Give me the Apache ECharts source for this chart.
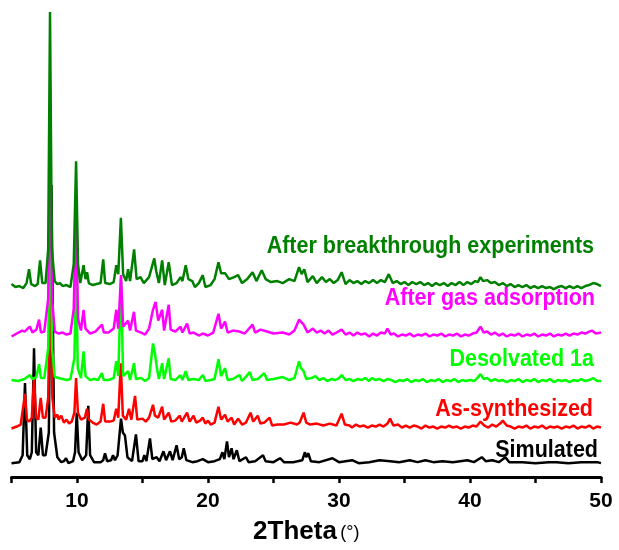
<html>
<head>
<meta charset="utf-8">
<title>PXRD patterns</title>
<script src="https://cdn.jsdelivr.net/npm/echarts@6/dist/echarts.min.js"></script>
<style>
  html, body { margin: 0; padding: 0; background: #fff; }
  #chart { width: 619px; height: 550px; }
</style>
</head>
<body>
<div id="chart"></div>
<script type="text/javascript">
// [2theta, intensity] pairs, each pattern already offset upward
var simulated = [[5.0,14],[5.6,15],[5.85,22],[6.03,95],[6.2,22],[6.4,18],[6.55,25],[6.72,130],[6.88,25],[7.05,22],[7.23,50],[7.4,22],[7.6,22],[7.85,45],[8.05,295],[8.25,45],[8.5,20],[8.8,15],[9.0,16],[9.16,19],[9.35,14],[9.7,16],[9.85,25],[9.98,65],[10.12,25],[10.4,17],[10.7,22],[10.86,72],[11.0,22],[11.3,15],[11.8,15],[12.0,17],[12.14,24],[12.3,16],[12.6,17],[12.75,22],[12.9,17],[13.1,22],[13.36,59],[13.5,45],[13.66,42],[13.85,20],[14.2,16],[14.5,43],[14.7,16],[15.0,16],[15.14,22],[15.3,16],[15.57,39],[15.75,18],[15.9,17],[16.08,20],[16.3,16],[16.6,26],[16.8,17],[17.1,26],[17.3,17],[17.6,32],[17.8,18],[18.0,20],[18.15,29],[18.35,17],[18.8,15],[19.2,16],[19.6,18],[20.0,15],[20.5,16],[20.9,18],[21.1,25],[21.25,18],[21.45,36],[21.6,20],[21.8,29],[21.95,18],[22.2,27],[22.4,16],[22.9,20],[23.1,15],[23.6,16],[24.2,22],[24.4,16],[25.0,15],[25.5,19],[25.8,15],[26.5,15],[27.2,17],[27.4,25],[27.5,20],[27.65,24],[27.85,16],[28.5,15],[29.5,19],[30.0,15],[31.0,17],[31.5,14],[32.3,15],[33.1,17],[33.9,16],[34.6,15],[35.4,17],[36.0,15],[36.6,17],[37.2,15],[37.9,16],[38.7,15],[39.8,17],[40.3,15],[40.9,20],[41.2,16],[41.7,17],[42.2,15],[42.7,20],[43.0,15],[44.0,15],[45.0,14],[46.0,15],[46.6,15],[47.5,14],[48.5,15],[49.7,15],[50,14]];

var asSynthesized = [[5.0,49],[5.4,51],[5.7,53],[5.85,55],[6.03,84],[6.18,58],[6.35,56],[6.55,60],[6.72,99],[6.88,60],[7.05,58],[7.23,80],[7.4,60],[7.6,60],[7.8,80],[7.95,200],[8.12,80],[8.3,60],[8.5,63],[8.6,58],[8.8,62],[9.0,55],[9.2,58],[9.4,54],[9.6,56],[9.8,65],[9.93,100],[10.07,65],[10.3,58],[10.6,60],[10.76,69],[10.9,58],[11.2,55],[11.5,53],[11.8,56],[12.0,74],[12.15,56],[12.5,56],[12.8,57],[13.0,69],[13.15,60],[13.34,115],[13.5,62],[13.75,58],[13.97,69],[14.15,58],[14.43,82],[14.6,58],[15.0,59],[15.25,56],[15.5,60],[15.8,73],[15.95,62],[16.2,60],[16.5,71],[16.65,58],[17.0,65],[17.2,56],[17.5,57],[17.85,62],[18.0,56],[18.4,65],[18.6,56],[18.9,62],[19.1,55],[19.4,57],[19.6,60],[19.8,54],[20.0,57],[20.2,53],[20.5,55],[20.8,71],[21.0,58],[21.3,63],[21.5,56],[21.8,60],[22.0,53],[22.3,59],[22.6,53],[22.9,55],[23.25,65],[23.45,56],[23.8,62],[24.0,54],[24.3,55],[24.7,60],[24.9,52],[25.3,53],[25.8,53],[26.3,55],[26.8,53],[27.0,55],[27.3,65],[27.5,55],[27.8,53],[28.3,54],[28.8,52],[29.3,54],[29.8,52],[30.2,64],[30.45,53],[30.8,52],[31.0,50],[31.3,53],[31.6,51],[31.9,52],[32.2,50],[32.5,52],[32.8,51],[33.1,53],[33.4,51],[33.7,54],[33.9,59],[34.15,52],[34.5,53],[34.8,50],[35.1,52],[35.4,50],[35.7,52],[36.0,51],[36.3,49],[36.6,52],[36.9,50],[37.2,51],[37.5,49],[37.8,51],[38.1,50],[38.4,52],[38.7,50],[39.0,51],[39.3,49],[39.6,51],[39.9,50],[40.2,52],[40.5,51],[40.8,56],[41.1,52],[41.4,50],[41.7,53],[42.0,51],[42.3,54],[42.5,57],[42.8,52],[43.1,51],[43.4,49],[43.7,51],[44.0,50],[44.3,52],[44.6,49],[44.9,51],[45.2,50],[45.5,52],[45.8,49],[46.1,51],[46.4,50],[46.7,51],[47.0,49],[47.3,51],[47.6,50],[47.9,52],[48.2,49],[48.5,51],[48.8,50],[49.1,52],[49.4,49],[49.7,51],[50,50]];

var desolvated = [[5.0,98],[5.5,97],[6.0,99],[6.4,103],[6.6,99],[6.9,101],[7.1,114],[7.25,100],[7.5,100],[7.8,130],[7.95,290],[8.1,130],[8.3,101],[8.6,100],[8.9,99],[9.2,98],[9.5,99],[9.8,120],[9.93,210],[10.06,110],[10.3,100],[10.5,127],[10.65,102],[11.0,98],[11.3,99],[11.6,98],[11.9,105],[12.05,98],[12.4,98],[12.8,100],[13.0,117],[13.15,102],[13.36,200],[13.52,102],[13.9,107],[14.05,98],[14.35,115],[14.5,99],[14.9,100],[15.2,97],[15.5,100],[15.8,135],[15.95,125],[16.1,110],[16.25,99],[16.5,115],[16.65,99],[17.0,120],[17.15,99],[17.5,98],[17.9,103],[18.05,98],[18.3,107],[18.5,98],[18.9,99],[19.3,98],[19.6,103],[19.8,97],[20.2,98],[20.5,99],[20.8,119],[21.0,102],[21.3,110],[21.5,98],[21.9,99],[22.4,103],[22.6,97],[23.2,106],[23.4,98],[23.8,99],[24.3,105],[24.5,98],[25.0,99],[25.7,101],[26.2,98],[26.6,100],[26.95,117],[27.1,110],[27.3,107],[27.5,99],[27.9,100],[28.2,102],[28.5,98],[28.8,100],[29.1,97],[29.4,99],[29.7,98],[30.0,100],[30.2,103],[30.5,98],[30.8,99],[31.1,97],[31.4,99],[31.7,98],[32.0,100],[32.3,97],[32.5,100],[32.8,98],[33.1,99],[33.4,97],[33.7,99],[34.0,98],[34.3,96],[34.6,98],[34.9,97],[35.2,99],[35.5,96],[35.8,98],[36.1,97],[36.4,99],[36.7,96],[37.0,98],[37.3,97],[37.6,99],[37.9,96],[38.2,98],[38.5,97],[38.8,99],[39.1,96],[39.4,98],[39.7,97],[40.0,98],[40.3,97],[40.5,99],[40.8,104],[41.05,99],[41.3,100],[41.6,97],[41.9,99],[42.2,97],[42.5,98],[42.8,96],[43.1,98],[43.4,97],[43.7,99],[44.0,96],[44.3,98],[44.6,97],[44.9,99],[45.2,96],[45.5,98],[45.8,97],[46.1,99],[46.4,96],[46.7,98],[47.0,97],[47.3,98],[47.6,96],[47.9,98],[48.2,97],[48.5,99],[48.8,97],[49.1,98],[49.4,100],[49.7,97],[50,97]];

var afterGas = [[5.0,142],[5.4,145],[5.8,148],[6.0,147],[6.4,152],[6.6,146],[6.9,149],[7.1,159],[7.25,146],[7.5,147],[7.8,180],[7.95,330],[8.1,180],[8.3,147],[8.6,145],[8.9,146],[9.2,144],[9.5,145],[9.75,170],[9.93,270],[10.08,160],[10.3,148],[10.5,169],[10.65,150],[11.0,145],[11.4,147],[11.9,154],[12.05,146],[12.4,146],[12.8,150],[13.0,169],[13.15,150],[13.36,204],[13.52,152],[13.9,158],[14.05,148],[14.35,167],[14.5,148],[14.9,146],[15.2,144],[15.5,150],[15.8,169],[16.0,177],[16.2,158],[16.5,169],[16.65,148],[17.0,174],[17.15,149],[17.5,147],[17.9,152],[18.05,146],[18.4,155],[18.6,145],[18.9,146],[19.3,143],[19.6,145],[20.0,143],[20.4,146],[20.8,165],[21.0,150],[21.3,157],[21.5,146],[21.9,148],[22.4,147],[22.8,145],[23.4,154],[23.6,146],[24.0,149],[24.5,147],[25.0,145],[25.7,146],[26.2,144],[26.6,148],[26.95,159],[27.1,157],[27.3,154],[27.6,146],[28.0,150],[28.3,146],[28.6,148],[28.9,145],[29.2,148],[29.5,144],[29.8,146],[30.2,149],[30.5,144],[30.8,146],[31.1,143],[31.4,146],[31.7,144],[32.0,145],[32.3,142],[32.6,145],[32.9,143],[33.2,146],[33.5,145],[33.7,150],[33.95,144],[34.2,145],[34.5,142],[34.8,144],[35.1,143],[35.4,145],[35.7,142],[36.0,144],[36.3,143],[36.6,145],[36.9,142],[37.2,144],[37.5,143],[37.8,145],[38.1,142],[38.4,144],[38.7,143],[39.0,145],[39.3,142],[39.6,144],[39.9,143],[40.2,145],[40.5,146],[40.8,152],[41.05,146],[41.3,147],[41.6,144],[41.9,146],[42.2,143],[42.5,145],[42.8,142],[43.1,144],[43.4,143],[43.7,145],[44.0,142],[44.3,144],[44.6,143],[44.9,145],[45.2,142],[45.5,144],[45.8,143],[46.1,145],[46.4,142],[46.7,144],[47.0,143],[47.3,145],[47.6,143],[47.9,145],[48.2,144],[48.5,146],[48.8,145],[49.1,147],[49.3,148],[49.6,145],[50,146]];

var afterBreakthrough = [[5.0,195],[5.3,192],[5.6,193],[5.9,191],[6.15,196],[6.34,210],[6.5,195],[6.8,193],[7.0,195],[7.18,219],[7.35,196],[7.6,196],[7.8,230],[7.94,470],[8.08,230],[8.3,198],[8.5,195],[8.7,196],[8.9,193],[9.2,194],[9.5,192],[9.75,215],[9.93,319],[10.08,215],[10.25,196],[10.5,214],[10.65,200],[10.77,207],[10.9,196],[11.2,194],[11.5,195],[11.8,196],[12.0,220],[12.15,196],[12.5,195],[12.8,197],[13.0,214],[13.15,205],[13.35,262],[13.52,205],[13.75,198],[13.9,210],[14.05,198],[14.36,230],[14.55,200],[14.85,202],[15.1,196],[15.5,202],[15.9,221],[16.05,208],[16.25,196],[16.5,219],[16.7,194],[17.0,217],[17.25,194],[17.6,196],[17.9,202],[18.05,198],[18.3,214],[18.5,200],[18.8,198],[19.0,192],[19.3,196],[19.6,204],[19.8,192],[20.2,194],[20.5,200],[20.8,217],[21.0,206],[21.3,206],[21.6,200],[22.0,202],[22.3,204],[22.6,196],[23.0,200],[23.4,207],[23.7,198],[24.1,209],[24.4,200],[24.8,197],[25.3,198],[25.7,196],[26.2,200],[26.6,198],[26.95,212],[27.15,205],[27.35,210],[27.6,197],[28.0,203],[28.3,196],[28.7,202],[29.0,197],[29.3,200],[29.6,196],[29.9,199],[30.2,207],[30.5,195],[30.8,199],[31.1,196],[31.4,198],[31.7,195],[32.0,198],[32.3,196],[32.6,199],[32.9,196],[33.2,199],[33.5,197],[33.8,205],[34.1,196],[34.4,198],[34.7,195],[35.0,197],[35.3,194],[35.6,197],[35.9,195],[36.2,197],[36.5,194],[36.8,196],[37.1,193],[37.4,196],[37.7,194],[38.0,196],[38.3,193],[38.6,196],[38.9,194],[39.2,197],[39.5,194],[39.8,197],[40.1,195],[40.4,198],[40.6,197],[40.8,202],[41.0,198],[41.3,199],[41.6,196],[41.9,197],[42.2,194],[42.5,196],[42.8,193],[43.1,195],[43.4,192],[43.7,194],[44.0,192],[44.3,194],[44.6,191],[44.9,193],[45.2,191],[45.5,193],[45.8,191],[46.1,192],[46.4,190],[46.7,192],[47.0,193],[47.3,191],[47.6,193],[47.9,191],[48.2,193],[48.5,191],[48.8,193],[49.1,194],[49.4,196],[49.7,195],[50,193]];

var names = ['Simulated', 'As-synthesized', 'Desolvated 1a', 'After gas adsorption', 'After breakthrough experiments'];
var colors = ['#000000', '#ff0000', '#00ff00', '#ff00ff', '#008000'];
var patterns = [simulated, asSynthesized, desolvated, afterGas, afterBreakthrough];
var labelY = [450, 409, 359, 298, 246];
var labelRight = [598, 593, 594, 595, 594];
var xTicks = [10, 20, 30, 40, 50];

var myChart = echarts.init(document.getElementById('chart'));

var series = [];
var graphic = [];
for (var i = 0; i < patterns.length; i++) {
    series.push({
        name: names[i],
        type: 'line',
        data: patterns[i],
        showSymbol: false,
        lineStyle: { color: colors[i], width: 2.5 },
        silent: true
    });
    graphic.push({
        type: 'text',
        x: labelRight[i],
        y: labelY[i],
        scaleY: 1.1,
        style: {
            text: names[i],
            fill: colors[i],
            font: 'bold 21.5px "Liberation Sans", Arial, sans-serif',
            textAlign: 'right',
            textVerticalAlign: 'middle'
        }
    });
}

myChart.setOption({
    animation: false,
    grid: { left: 11.5, right: 18, top: 10, bottom: 68 },
    xAxis: {
        type: 'value',
        min: 5,
        max: 50,
        interval: 5,
        name: '{a|2Theta} {b|(°)}',
        nameLocation: 'middle',
        nameGap: 42,
        nameTextStyle: {
            rich: {
                a: { fontSize: 26, fontWeight: 'bold', color: '#000', fontFamily: 'Liberation Sans' },
                b: { fontSize: 18, color: '#000', fontFamily: 'Liberation Sans', padding: [3, 0, 0, 0] }
            }
        },
        axisLine: { lineStyle: { color: '#000', width: 3 } },
        axisTick: { length: 6, lineStyle: { color: '#000', width: 2.5 } },
        splitLine: { show: false },
        axisLabel: {
            margin: 14,
            fontSize: 21,
            fontWeight: 'bold',
            color: '#000',
            fontFamily: 'Liberation Sans',
            formatter: function (v) { return xTicks.indexOf(v) >= 0 ? String(v) : ''; }
        }
    },
    yAxis: { type: 'value', min: 0, max: 472, show: false },
    series: series,
    graphic: graphic
});
</script>
</body>
</html>
